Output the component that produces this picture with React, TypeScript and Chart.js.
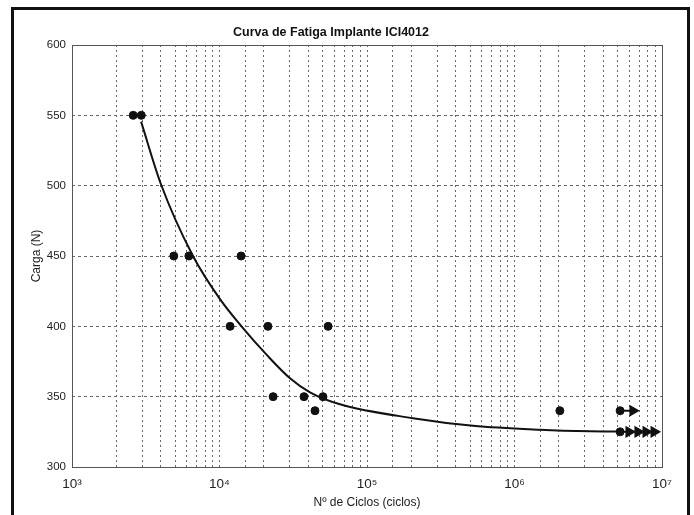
import React, { useEffect, useRef } from "react";
import { Chart, registerables } from "chart.js";

Chart.register(...registerables);

const W = 694;
const H = 515;

const titleText = "Curva de Fatiga Implante ICI4012";
const xLabel = "Nº de Ciclos (ciclos)";
const yLabel = "Carga (N)";

const xDecades = [1e3, 1e4, 1e5, 1e6, 1e7];
const xDecadeLabels = ["10³", "10⁴", "10⁵", "10⁶", "10⁷"];

// ensaios (pontos)
const testCycles = [2600, 2950, 4900, 6200, 14000, 11800, 21300, 54500, 23100, 37400, 50300, 44400, 2030000, 5200000, 5200000];
const testLoads = [550, 550, 450, 450, 450, 400, 400, 400, 350, 350, 350, 340, 340, 340, 325];

// curva ajustada
const curveCycles = [2940, 4010, 6610, 10080, 14430, 20990, 30060, 41080, 65610, 205000, 524000, 1490000, 3250000, 5190000];
const curveLoads = [545.5, 501, 450, 419.3, 398.7, 379.5, 363.1, 353.1, 344.6, 334.7, 329.3, 326.5, 325.4, 325.2];

// run-outs (setas)
const runoutTopCycles = [5200000, 6350000];
const runoutTopLoads = [340, 340];
const runoutBottomCycles = [5200000, 5970000, 6870000, 7790000, 8830000];
const runoutBottomLoads = [325, 325, 325, 325, 325];

const toXY = (xs: number[], ys: number[]) => xs.map((x, i) => ({ x, y: ys[i] }));

const framePlugin = {
  id: "framePlugin",
  afterDraw(chart: any) {
    const { ctx, chartArea } = chart;
    ctx.save();
    ctx.strokeStyle = "#555";
    ctx.lineWidth = 1;
    ctx.setLineDash([]);
    ctx.strokeRect(
      Math.round(chartArea.left) + 0.5,
      Math.round(chartArea.top) + 0.5,
      Math.round(chartArea.right - chartArea.left),
      Math.round(chartArea.bottom - chartArea.top)
    );
    ctx.strokeStyle = "#111";
    ctx.lineWidth = 3;
    ctx.strokeRect(12.5, 8.5, 676, 600);
    ctx.restore();
  },
};

export default function App() {
  const ref = useRef<HTMLCanvasElement | null>(null);

  useEffect(() => {
    if (!ref.current) return;
    const chart = new Chart(ref.current, {
      type: "scatter",
      data: {
        datasets: [
          {
            label: "pontos",
            data: toXY(testCycles, testLoads),
            pointRadius: 4,
            pointBackgroundColor: "#111",
            pointBorderColor: "#111",
            showLine: false,
          },
          {
            label: "runout1",
            data: toXY(runoutTopCycles, runoutTopLoads),
            showLine: true,
            borderColor: "#111",
            borderWidth: 2,
            pointStyle: "triangle",
            rotation: 90,
            pointRadius: [0, 5],
            pointBackgroundColor: "#111",
            pointBorderColor: "#111",
          },
          {
            label: "runout2",
            data: toXY(runoutBottomCycles, runoutBottomLoads),
            showLine: true,
            borderColor: "#111",
            borderWidth: 2,
            pointStyle: "triangle",
            rotation: 90,
            pointRadius: [0, 5, 5, 5, 5],
            pointBackgroundColor: "#111",
            pointBorderColor: "#111",
          },
          {
            label: "curva",
            data: toXY(curveCycles, curveLoads),
            showLine: true,
            borderColor: "#111",
            borderWidth: 2,
            pointRadius: 0,
            cubicInterpolationMode: "monotone",
          },
        ],
      },
      options: {
        animation: false,
        responsive: false,
        devicePixelRatio: 1,
        layout: { padding: { left: 0, right: 32, top: 0, bottom: 0 } },
        plugins: {
          legend: { display: false },
          tooltip: { enabled: false },
          title: {
            display: true,
            text: titleText,
            color: "#111",
            font: { family: "Liberation Sans", size: 12.5, weight: "bold" },
            padding: { top: 25, bottom: 5 },
          },
        },
        scales: {
          x: {
            type: "logarithmic",
            min: 1e3,
            max: 1e7,
            afterFit: (s: any) => {
              s.height = 48;
            },
            border: { display: false, dash: [2, 3] },
            grid: {
              color: "#666",
              lineWidth: 1,
              drawTicks: false,
            },
            ticks: {
              autoSkip: false,
              maxRotation: 0,
              padding: 9,
              color: "#222",
              font: { family: "Liberation Sans", size: 13.5 },
              callback: (v: any) => {
                const val = Number(v);
                const i = xDecades.findIndex((d) => Math.abs(val / d - 1) < 1e-9);
                return i >= 0 ? xDecadeLabels[i] : "";
              },
            },
            title: {
              display: true,
              text: xLabel,
              color: "#222",
              font: { family: "Liberation Sans", size: 12 },
              padding: { top: 0, bottom: 5 },
            },
          },
          y: {
            min: 300,
            max: 600,
            afterFit: (s: any) => {
              s.width = 72;
            },
            border: { display: false, dash: [3, 3] },
            grid: {
              color: "#666",
              lineWidth: 1,
              drawTicks: false,
            },
            ticks: {
              stepSize: 50,
              padding: 6,
              color: "#222",
              font: { family: "Liberation Sans", size: 11.5 },
            },
            title: {
              display: true,
              text: yLabel,
              color: "#222",
              font: { family: "Liberation Sans", size: 12 },
              padding: { top: 29, bottom: 0 },
            },
          },
        },
      } as any,
      plugins: [framePlugin],
    });
    return () => chart.destroy();
  }, []);

  return (
    <div style={{ position: "absolute", left: 0, top: 0, width: W, height: H, background: "#fff" }}>
      <canvas ref={ref} width={W} height={H} style={{ display: "block", width: W, height: H }} />
    </div>
  );
}
